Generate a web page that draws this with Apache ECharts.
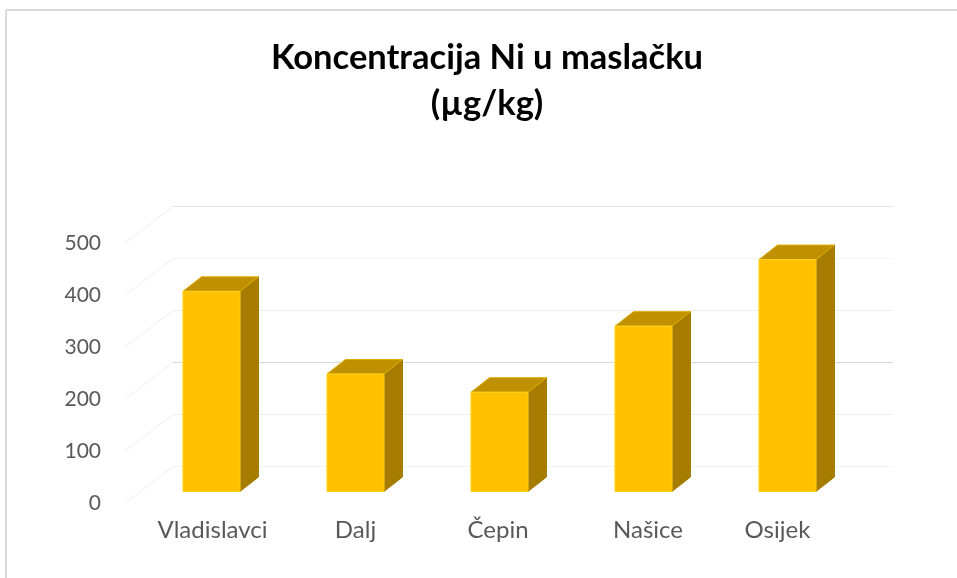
<!DOCTYPE html>
<html>
<head>
<meta charset="utf-8">
<style>html,body{margin:0;padding:0;background:#fff}#c{width:957px;height:578px}</style>
<script src="https://cdn.jsdelivr.net/npm/echarts@6/dist/echarts.min.js"></script>
</head>
<body>
<div id="c"></div>
<script>
const titleText = 'Koncentracija Ni u maslačku\n(µg/kg)';
const categories = ['Vladislavci', 'Dalj', 'Čepin', 'Našice', 'Osijek'];
const values = [385, 226, 191, 318, 446];
const yTicks = [0, 100, 200, 300, 400, 500];
const labelPads = [[0,0,0,2], [0,0,0,0], [0,3,0,0], [0,0,0,9], [0,20,0,0]];

const font = 'Lato, Carlito, sans-serif';
const depth = {x: 48, y: -36.5};
const barDepth = {x: 18.5, y: -14.5};
const gridColors = ['#f2f2f2', '#eeeeee', '#d9d9d9', '#eeeeee', '#f4f4f4', '#e6e6e6'];

function poly(points, fill, stroke) {
  return {type: 'polygon', shape: {points}, style: {fill, stroke: stroke || fill, lineWidth: 1}};
}

const chart = echarts.init(document.getElementById('c'), null, {renderer: 'canvas'});
chart.setOption({
  animation: false,
  backgroundColor: '#ffffff',
  title: {
    text: titleText, left: 482, top: 30, textAlign: 'center',
    textStyle: {fontFamily: font, fontWeight: 'bold', fontSize: 34.5, lineHeight: 46, color: '#000'}
  },
  graphic: [
    {type: 'line', shape: {x1: 6, y1: 10, x2: 957, y2: 10}, style: {stroke: '#d9d9d9', lineWidth: 2}},
    {type: 'line', shape: {x1: 6, y1: 10, x2: 6, y2: 578}, style: {stroke: '#d9d9d9', lineWidth: 2}}
  ],
  grid: [
    {left: 125, width: 720, top: 243, height: 260},
    {left: 139.5, width: 720, top: 231.5, height: 260}
  ],
  xAxis: [
    {type: 'category', gridIndex: 0, data: categories, show: false},
    {type: 'category', gridIndex: 1,
     data: categories.map((c, i) => ({value: c, textStyle: {padding: labelPads[i]}})),
     axisLine: {show: false}, axisTick: {show: false},
     axisLabel: {interval: 0, margin: 27, fontFamily: font, fontSize: 24, color: '#595959'}}
  ],
  yAxis: [
    {type: 'value', gridIndex: 0, min: 0, max: 500, interval: 100,
     splitLine: {show: false}, axisLine: {show: false}, axisTick: {show: false},
     axisLabel: {margin: 24, padding: [3, 0, 0, 0], fontFamily: font, fontSize: 21, color: '#595959',
       formatter: v => yTicks.includes(v) ? String(v) : ''}},
    {type: 'value', gridIndex: 1, min: 0, max: 500, interval: 100, show: false}
  ],
  series: [
    {
      type: 'custom', xAxisIndex: 0, yAxisIndex: 0, z: 1, silent: true,
      data: yTicks.map(v => [0, v]),
      encode: {x: 0, y: 1},
      clip: false,
      renderItem(params, api) {
        const cs = params.coordSys;
        const y = api.coord([0, api.value(1)])[1];
        const i = params.dataIndex;
        const fx = cs.x, bx = cs.x + depth.x, by = y + depth.y;
        return {type: 'group', children: [
          {type: 'line', shape: {x1: fx, y1: y, x2: bx, y2: by}, style: {stroke: '#f0f0f0', lineWidth: 1}},
          {type: 'line', shape: {x1: bx, y1: by, x2: bx + cs.width, y2: by}, style: {stroke: gridColors[i], lineWidth: 1}}
        ]};
      }
    },
    {
      type: 'custom', xAxisIndex: 1, yAxisIndex: 1, z: 2, silent: true,
      data: values.map((v, i) => [i, v]),
      encode: {x: 0, y: 1},
      renderItem(params, api) {
        const top = api.coord([api.value(0), api.value(1)]);
        const base = api.coord([api.value(0), 0]);
        const w = api.size([1, 0])[0] * 0.396;
        const l = top[0] - w / 2, r = top[0] + w / 2;
        const dx = barDepth.x, dy = barDepth.y;
        return {type: 'group', children: [
          poly([[r, top[1]], [r + dx, top[1] + dy], [r + dx, base[1] + dy], [r, base[1]]], '#a67c00'),
          poly([[l, top[1]], [l + dx, top[1] + dy], [r + dx, top[1] + dy], [r, top[1]]], '#bf9000', '#e0ac00'),
          {type: 'rect', shape: {x: l, y: top[1], width: w, height: base[1] - top[1]},
           style: {fill: '#ffc000', stroke: '#ffd21f', lineWidth: 1}}
        ]};
      }
    }
  ]
});
</script>
</body>
</html>
